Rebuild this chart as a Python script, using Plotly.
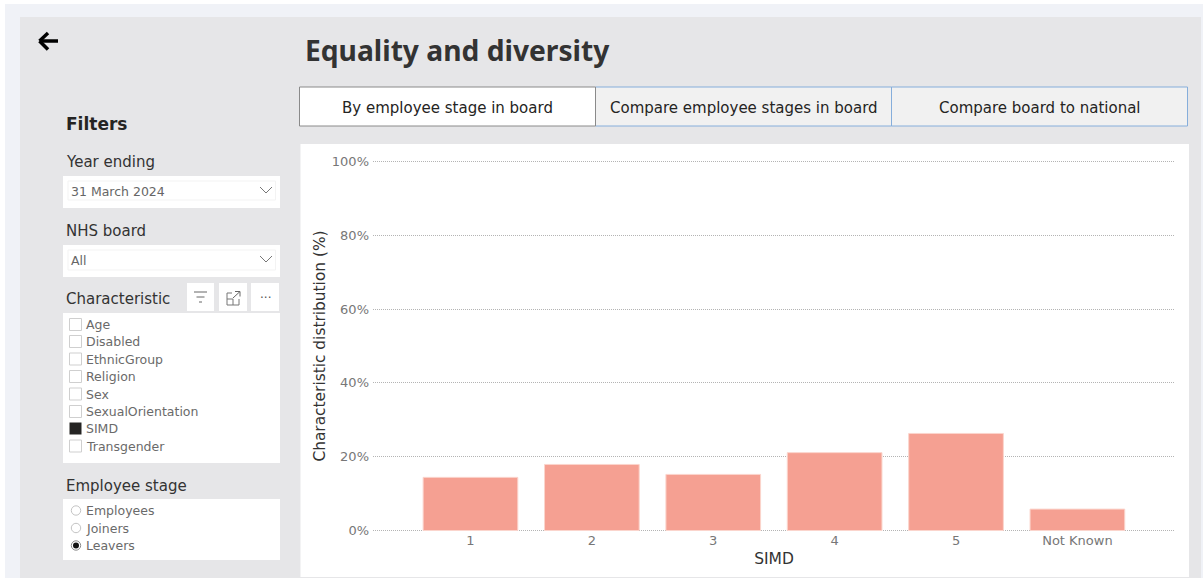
import plotly.graph_objects as go

W, H = 1203, 578

# Data
categories = ["1", "2", "3", "4", "5", "Not Known"]
values = [14.4, 17.9, 15.2, 21.1, 26.3, 5.8]
y_ticks = [0, 20, 40, 60, 80, 100]
y_tick_labels = ["0%", "20%", "40%", "60%", "80%", "100%"]
characteristics = ["Age", "Disabled", "EthnicGroup", "Religion", "Sex", "SexualOrientation", "SIMD", "Transgender"]
selected_characteristic = "SIMD"
stages = ["Employees", "Joiners", "Leavers"]
selected_stage = "Leavers"
tabs = ["By employee stage in board", "Compare employee stages in board", "Compare board to national"]

FONT = "DejaVu Sans"
shapes, notes = [], []


def px(x):
    return x / W


def py(y):
    return 1 - y / H


def rect(x0, y0, x1, y1, fill, line=None, lw=1):
    shapes.append(dict(type="rect", xref="paper", yref="paper", layer="below",
                       x0=px(x0), x1=px(x1), y0=py(y1), y1=py(y0), fillcolor=fill,
                       line=dict(color=line or fill, width=lw if line else 0)))


def seg(x0, y0, x1, y1, color, lw=1):
    shapes.append(dict(type="line", xref="paper", yref="paper", layer="below",
                       x0=px(x0), x1=px(x1), y0=py(y0), y1=py(y1),
                       line=dict(color=color, width=lw)))


def circle(cx, cy, r, fill, line=None):
    shapes.append(dict(type="circle", xref="paper", yref="paper", layer="below",
                       x0=px(cx - r), x1=px(cx + r), y0=py(cy + r), y1=py(cy - r), fillcolor=fill,
                       line=dict(color=line or fill, width=1 if line else 0)))


def text(x, y, s, size, color, anchor="left", family=FONT, bold=False):
    notes.append(dict(xref="paper", yref="paper", x=px(x), y=py(y), text=f"<b>{s}</b>" if bold else s,
                      showarrow=False, xanchor=anchor, yanchor="middle",
                      borderpad=0, borderwidth=0,
                      font=dict(size=size, color=color, family=family)))


# Page panels
rect(5, 4, W, H, "#f0f2f7")
rect(20, 17, 1201, H, "#e6e6e8")
rect(300.5, 144, 1189, 577, "#ffffff")

# Back arrow
seg(40, 41, 58, 41, "#000000", 3.5)
seg(39.5, 41, 48, 33, "#000000", 3.5)
seg(39.5, 41, 48, 49.5, "#000000", 3.5)

# Title
text(305, 50.5, "Equality and diversity", 28.2, "#333333", family="Noto Sans", bold=True)

# Tabs
tab_edges = [(299.5, 595.5), (595.5, 891.5), (891.5, 1187.5)]
for i, (tab, (a, b)) in enumerate(zip(tabs, tab_edges)):
    if i:
        rect(a, 87, b, 126, "#f1f1f1", "#86aedb", 1)
for i, (tab, (a, b)) in enumerate(zip(tabs, tab_edges)):
    if i == 0:
        rect(a, 87, b, 126, "#ffffff", "#8a8a8a", 1)
    text((a + b) / 2, 107.5, tab, 15, "#252423", anchor="center")

# Filters
text(66, 124, "Filters", 17, "#252423", bold=True)
text(65.5, 161.5, "Year ending", 15, "#333333")
rect(63, 176, 280, 208, "#ffffff")
rect(68, 181, 275.5, 200, "#ffffff", "#f3f3f3", 1)
text(71, 191, "31 March 2024", 12.5, "#666666")
seg(260, 187, 266, 193, "#777777")
seg(266, 193, 272, 187, "#777777")

text(65.5, 230.5, "NHS board", 15, "#333333")
rect(63, 245, 280, 277, "#ffffff")
rect(68, 250, 275.5, 270, "#ffffff", "#f3f3f3", 1)
text(71, 260, "All", 12.5, "#666666")
seg(260, 256, 266, 262, "#777777")
seg(266, 262, 272, 256, "#777777")

text(65.5, 299, "Characteristic", 15, "#333333")
for a, b in [(187, 214), (219, 247), (251, 279)]:
    rect(a, 283, b, 311, "#ffffff")
seg(194, 292, 207, 292, "#666666")
seg(196.5, 297, 204.5, 297, "#666666")
seg(199, 302, 202, 302, "#666666")
# expand icon
seg(227, 293, 232, 293, "#777777")
seg(227, 293, 227, 305, "#777777")
seg(227, 305, 239, 305, "#777777")
seg(239, 305, 239, 299, "#777777")
seg(227, 299, 233, 299, "#777777")
seg(233, 299, 233, 305, "#777777")
seg(233, 298, 240, 291.5, "#666666")
seg(235, 291.5, 240, 291.5, "#666666")
seg(240, 291.5, 240, 296.5, "#666666")
text(265, 298, "···", 12, "#555555", anchor="center")

rect(63, 313, 280, 463, "#ffffff")
check_y = [324.5, 341.5, 359, 376.5, 394, 411.5, 428.5, 446]
for name, y in zip(characteristics, check_y):
    if name == selected_characteristic:
        rect(69.5, y - 6, 81.5, y + 6, "#252423")
    else:
        rect(69.5, y - 6, 81.5, y + 6, "#ffffff", "#cfcfcf", 1)
    text(85.5, y, name, 12.5, "#6a6a6a")

text(65.5, 486, "Employee stage", 15, "#333333")
rect(63, 499, 280, 560, "#ffffff")
radio_y = [510.5, 528, 545.5]
for name, y in zip(stages, radio_y):
    circle(76, y, 4.7, "#ffffff", "#c4c4c4" if name != selected_stage else "#8a8a8a")
    if name == selected_stage:
        circle(76, y, 3, "#111111")
    text(85.5, y, name, 12.5, "#6a6a6a")

fig = go.Figure(go.Bar(x=categories, y=values, width=0.78,
                       marker=dict(color="#f5a092", line=dict(color="#fbd5cd", width=1))))

fig.update_layout(
    width=W, height=H, margin=dict(l=0, r=0, t=0, b=0, autoexpand=False), autosize=False,
    paper_bgcolor="#ffffff", plot_bgcolor="rgba(0,0,0,0)", showlegend=False,
    font=dict(family=FONT),
    shapes=shapes, annotations=notes,
    xaxis=dict(domain=[px(373), px(1175)], range=[-0.803, 5.804], type="category",
               categoryorder="array", categoryarray=categories, showgrid=False, zeroline=False,
               ticks="", showline=False, tickfont=dict(size=13, color="#777777"),
               ticklabelstandoff=-2,
               title=dict(text="SIMD", font=dict(size=15.5, color="#333333"), standoff=6)),
    yaxis=dict(domain=[py(532.5), py(159.5)], range=[-0.542, 100.542], tickvals=y_ticks, ticktext=y_tick_labels,
               showgrid=True, gridcolor="#b4b4b4", griddash="1px,1px", gridwidth=1, zeroline=False,
               showline=False, ticks="", tickfont=dict(size=13, color="#777777"),
               ticklabelstandoff=3,
               title=dict(text="Characteristic distribution (%)", font=dict(size=15.4, color="#333333"), standoff=2)),
)

fig.write_html("out.html", config={"displayModeBar": False},
               post_script="document.body.style.margin='0';document.body.style.overflow='hidden';")
